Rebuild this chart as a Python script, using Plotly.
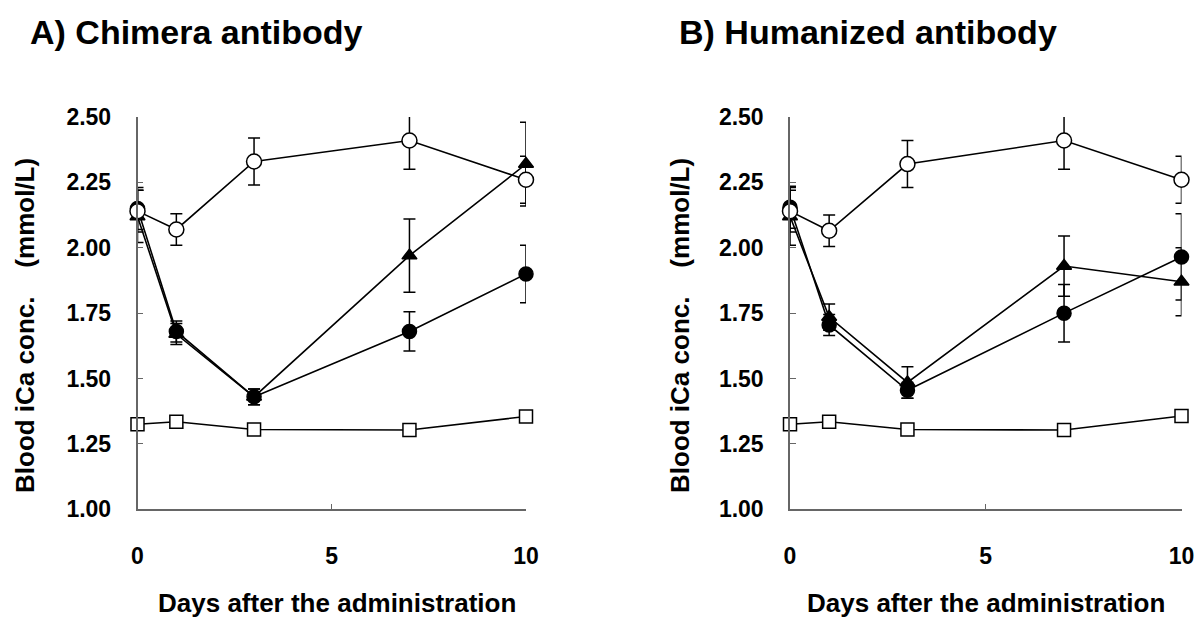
import plotly.graph_objects as go

W, H = 1200, 617

# ---- data ----
days = [0, 1, 3, 7, 10]

# Panel A: Chimera antibody
a_open = [2.14, 2.07, 2.33, 2.41, 2.26]
a_open_err = [0.08, 0.06, 0.09, 0.11, 0.09]
a_circ = [2.15, 1.68, 1.43, 1.68, 1.90]
a_circ_err = [0.08, 0.04, 0.03, 0.075, 0.11]
a_tri = [2.12, 1.67, 1.43, 1.97, 2.32]
a_tri_err = [0.10, 0.04, 0.03, 0.14, 0.16]
a_sq = [1.325, 1.335, 1.305, 1.303, 1.355]
a_sq_err = [0.01, 0.01, 0.01, 0.01, 0.01]

# Panel B: Humanized antibody
b_open = [2.14, 2.065, 2.32, 2.41, 2.26]
b_open_err = [0.08, 0.06, 0.09, 0.11, 0.09]
b_circ = [2.155, 1.705, 1.455, 1.75, 1.965]
b_circ_err = [0.08, 0.04, 0.03, 0.11, 0.165]
b_tri = [2.12, 1.735, 1.485, 1.93, 1.87]
b_tri_err = [0.11, 0.05, 0.06, 0.115, 0.13]
b_sq = [1.325, 1.335, 1.305, 1.303, 1.357]
b_sq_err = [0.01, 0.01, 0.01, 0.01, 0.01]

panel_titles = ["A) Chimera antibody", "B) Humanized antibody"]
x_title = "Days after the administration"
y_title = "Blood iCa conc.\u00a0\u00a0\u00a0\u00a0(mmol/L)"
y_ticks = [1.00, 1.25, 1.50, 1.75, 2.00, 2.25, 2.50]
x_ticks = [0, 5, 10]

FONT = "Liberation Sans, Arial, Helvetica, sans-serif"


def px(x):
    return x / W


def py(y):
    return 1 - y / H


fig = go.Figure()


def add_series(xa, ya, y, err, symbol, fill, size):
    fig.add_trace(go.Scatter(
        x=days, y=y, xaxis=xa, yaxis=ya, mode="lines+markers",
        line=dict(color="black", width=1.6),
        marker=dict(symbol=symbol, size=size, color=fill,
                    line=dict(color="black", width=1.5)),
        error_y=dict(type="data", array=err, visible=True,
                     color="black", thickness=1.5, width=6),
        cliponaxis=False, showlegend=False, hoverinfo="x+y"))


for xa, ya, sq, sqe, circ, circe, tri, trie, op, ope in [
    ("x", "y", a_sq, a_sq_err, a_circ, a_circ_err, a_tri, a_tri_err, a_open, a_open_err),
    ("x2", "y2", b_sq, b_sq_err, b_circ, b_circ_err, b_tri, b_tri_err, b_open, b_open_err),
]:
    add_series(xa, ya, sq, sqe, "square", "white", 13)
    add_series(xa, ya, circ, circe, "circle", "black", 14)
    add_series(xa, ya, tri, trie, "triangle-up", "black", 13)
    add_series(xa, ya, op, ope, "circle", "white", 15)

tickfont = dict(family=FONT, size=23, color="black", weight=700)


def xaxis(domain, anchor):
    return dict(domain=domain, anchor=anchor, range=[0, 10], tickvals=x_ticks,
                showline=True, linecolor="#666", linewidth=1.5, ticks="inside",
                ticklen=6, tickcolor="#666", tickwidth=1.2, showgrid=False,
                zeroline=False, tickfont=tickfont, ticklabelstandoff=25,
                automargin=False)


def yaxis(domain, anchor):
    return dict(domain=domain, anchor=anchor, range=[1, 2.5], tickvals=y_ticks,
                tickformat=".2f", showline=True, linecolor="#666", linewidth=1.5,
                ticks="inside", ticklen=6, tickcolor="#666", tickwidth=1.2,
                showgrid=False, zeroline=False, tickfont=tickfont,
                ticklabelstandoff=20, automargin=False)


ydom = [py(509.3), py(117)]
fig.update_layout(
    width=W, height=H, margin=dict(l=0, r=0, t=0, b=0, pad=0),
    paper_bgcolor="white", plot_bgcolor="white",
    xaxis=xaxis([px(137.5), px(526)], "y"),
    yaxis=yaxis(ydom, "x"),
    xaxis2=xaxis([px(790), px(1181.5)], "y2"),
    yaxis2=yaxis(ydom, "x2"),
)

ann = []
for title, tx, xt_x, yt_x in [
    (panel_titles[0], 28, 337, 25),
    (panel_titles[1], 677, 986, 680),
]:
    ann.append(dict(text=title, x=px(tx), y=py(32), xref="paper", yref="paper",
                    xanchor="left", yanchor="middle", showarrow=False,
                    font=dict(family=FONT, size=34, color="black", weight=700)))
    ann.append(dict(text=x_title, x=px(xt_x), y=py(603), xref="paper", yref="paper",
                    xanchor="center", yanchor="middle", showarrow=False,
                    font=dict(family=FONT, size=26, color="black", weight=700)))
    ann.append(dict(text=y_title, x=px(yt_x), y=py(326), xref="paper", yref="paper",
                    xanchor="center", yanchor="middle", showarrow=False,
                    textangle=-90,
                    font=dict(family=FONT, size=26, color="black", weight=700)))
fig.update_layout(annotations=ann)

fig.write_html("out.html")
